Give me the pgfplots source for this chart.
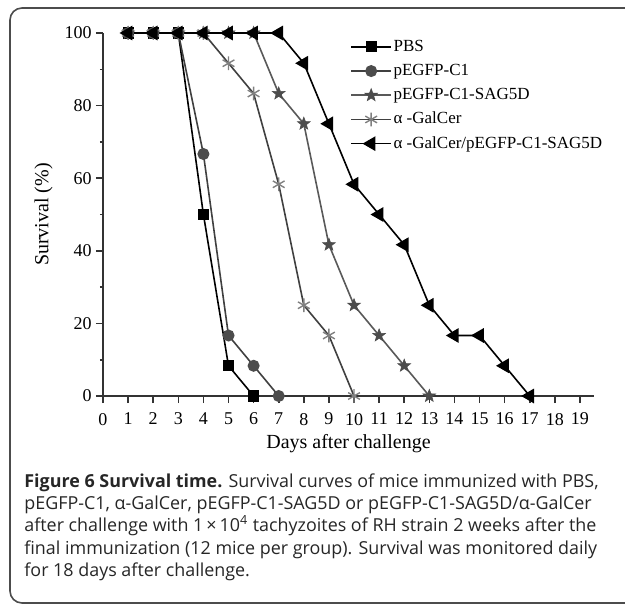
\documentclass[border=0pt]{standalone}
\usepackage{pgfplots}
\pgfplotsset{compat=1.18}
\usepackage{fontspec}
\setmainfont{Liberation Serif}
\newfontfamily\capfont{Open Sans}
\pgfdeclareplotmark{fstar}{%
  \pgfpathmoveto{\pgfqpointpolar{90}{\pgfplotmarksize}}%
  \pgfpathlineto{\pgfqpointpolar{126}{0.42\pgfplotmarksize}}%
  \pgfpathlineto{\pgfqpointpolar{162}{\pgfplotmarksize}}%
  \pgfpathlineto{\pgfqpointpolar{198}{0.42\pgfplotmarksize}}%
  \pgfpathlineto{\pgfqpointpolar{234}{\pgfplotmarksize}}%
  \pgfpathlineto{\pgfqpointpolar{270}{0.42\pgfplotmarksize}}%
  \pgfpathlineto{\pgfqpointpolar{306}{\pgfplotmarksize}}%
  \pgfpathlineto{\pgfqpointpolar{342}{0.42\pgfplotmarksize}}%
  \pgfpathlineto{\pgfqpointpolar{18}{\pgfplotmarksize}}%
  \pgfpathlineto{\pgfqpointpolar{54}{0.42\pgfplotmarksize}}%
  \pgfpathclose
  \pgfusepathqfillstroke}
\begin{document}
\begin{tikzpicture}
\useasboundingbox (0,0) rectangle (312.5pt,-303pt);
\draw[rounded corners=6pt, line width=0.8pt, black!70] (5pt,-4pt) rectangle (330pt,-301.5pt);
\begin{axis}[
  at={(51.5pt,-198pt)}, anchor=south west,
  scale only axis, width=245.5pt, height=181.5pt,
  xmin=0, xmax=19.56, ymin=0, ymax=100,
  axis x line=bottom, axis y line=left,
  axis line style={-, line width=0.8pt, black!80},
  xtick={0,...,19}, ytick={0,20,...,100}, minor ytick={10,30,...,90},
  tick align=outside, major tick length=3.5pt, minor tick length=1.5pt,
  every tick/.style={line width=0.8pt, black!80},
  tick label style={font=\fontsize{9}{9}\selectfont},
  xticklabel style={yshift=-1.5pt},
  yticklabel style={inner sep=2pt},
  /pgf/number format/assume math mode=true,
  xlabel={Days after challenge}, ylabel={Survival (\%)},
  label style={font=\fontsize{11}{11}\selectfont},
  every axis x label/.style={at={(axis description cs:0.5,-0.13)}, anchor=center},
  every axis y label/.style={at={(axis description cs:-0.121,0.5)}, anchor=center, rotate=90},
  clip=false,
  legend style={draw=none, fill=none, at={(rel axis cs:0.503,0.988)}, anchor=north west,
    font=\fontsize{8.5}{8.5}\selectfont, row sep=3pt, inner sep=0pt,
    nodes={inner sep=0.8pt, text height=6pt, text depth=1.5pt}},
  legend cell align=left,
  legend image code/.code={\draw[mark repeat=2,mark phase=2,#1] plot coordinates {(0pt,0pt) (10pt,0pt) (20pt,0pt)};},
  every axis plot/.append style={line width=0.8pt},
]
\addplot[black, mark=square*, mark size=2.4pt, mark options={solid}] coordinates {
(1,100) (2,100) (3,100) (4,50) (5,8.33) (6,0)};
\addlegendentry{PBS}
\addplot[black!75, mark=*, mark size=2.6pt, mark options={fill=black!70, draw=black!70}] coordinates {
(1,100) (2,100) (3,100) (4,66.67) (5,16.67) (6,8.33) (7,0)};
\addlegendentry{pEGFP-C1}
\addplot[black!65, mark=fstar, mark size=3.3pt, mark options={fill=black!70, draw=black!70, line width=0.3pt}] coordinates {
(1,100) (2,100) (3,100) (4,100) (5,100) (6,100) (7,83.33) (8,75) (9,41.67) (10,25) (11,16.67) (12,8.33) (13,0)};
\addlegendentry{pEGFP-C1-SAG5D}
\addplot[black!75, mark=asterisk, mark size=3.4pt, mark options={draw=black!50, line width=0.7pt}] coordinates {
(1,100) (2,100) (3,100) (4,100) (5,91.67) (6,83.33) (7,58.33) (8,25) (9,16.67) (10,0)};
\addlegendentry{α -GalCer}
\addplot[black, mark=triangle*, mark size=3.5pt, mark options={rotate=90, fill=black}] coordinates {
(1,100) (2,100) (3,100) (4,100) (5,100) (6,100) (7,100) (8,91.67) (9,75) (10,58.33) (11,50) (12,41.67) (13,25) (14,16.67) (15,16.67) (16,8.33) (17,0)};
\addlegendentry{α -GalCer/pEGFP-C1-SAG5D}
\end{axis}
\node[anchor=north west, inner sep=0pt, align=left, text=black!85,
  font=\capfont\fontsize{8.95}{11.2}\selectfont] at (12pt,-236.5pt) {%
\textbf{Figure 6 Survival time.} Survival curves of mice immunized with PBS,\\
pEGFP-C1, α-GalCer, pEGFP-C1-SAG5D or pEGFP-C1-SAG5D/α-GalCer\\
after challenge with 1\,×\,10\textsuperscript{4} tachyzoites of RH strain 2 weeks after the\\
final immunization (12 mice per group). Survival was monitored daily\\
for 18 days after challenge.};
\end{tikzpicture}
\end{document}
